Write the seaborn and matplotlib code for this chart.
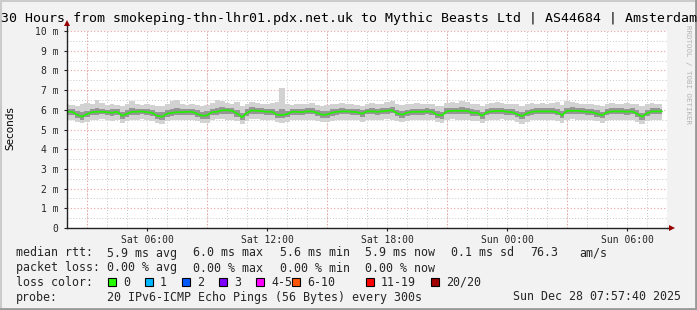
import numpy as np
import pandas as pd
import matplotlib
matplotlib.use("Agg")
import matplotlib.pyplot as plt
from matplotlib.patches import Rectangle
from matplotlib.lines import Line2D
import seaborn as sns

# ---------------- data ----------------
start_time = "2025-12-27 02:00"
end_time = "2025-12-28 08:00"
step = "15min"

median_rtt = [5.9,5.9,5.75,5.65,5.78,5.88,5.9,5.9,5.88,5.85,5.9,5.7,5.8,5.9,5.9,5.92,5.88,5.85,5.7,5.65,5.8,5.85,5.88,5.88,
              5.9,5.9,5.8,5.7,5.72,5.88,5.9,5.97,5.98,5.95,5.82,5.62,5.85,5.97,5.95,5.93,5.9,5.9,5.75,5.73,5.78,5.9,5.9,5.88,
              5.92,5.92,5.85,5.75,5.76,5.85,5.9,5.92,5.92,5.9,5.88,5.8,5.92,5.92,5.9,5.92,5.95,5.98,5.82,5.75,5.85,5.9,5.9,5.9,
              5.92,5.9,5.75,5.72,5.92,5.95,5.95,5.95,5.95,5.85,5.85,5.7,5.88,5.93,5.93,5.95,5.9,5.88,5.78,5.68,5.82,5.9,5.92,5.92,
              5.92,5.92,5.88,5.72,5.95,5.95,5.95,5.92,5.9,5.88,5.8,5.72,5.88,5.92,5.92,5.92,5.9,5.92,5.8,5.65,5.82,5.92,5.92,5.92]

rtt_max = [6.3,6.25,6.2,6.3,6.35,6.3,6.5,6.35,6.25,6.3,6.25,6.2,6.3,6.45,6.3,6.25,6.3,6.25,6.2,6.2,6.3,6.45,6.5,6.3,
           6.25,6.3,6.25,6.2,6.25,6.35,6.5,6.45,6.35,6.3,6.4,6.2,6.3,6.4,6.35,6.3,6.3,6.35,6.4,7.1,6.3,6.25,6.3,6.3,
           6.3,6.35,6.25,6.2,6.25,6.3,6.3,6.35,6.3,6.3,6.25,6.2,6.3,6.35,6.3,6.3,6.4,6.45,6.3,6.25,6.3,6.3,6.35,6.3,
           6.3,6.3,6.2,6.2,6.35,6.4,6.35,6.45,6.4,6.3,6.3,6.2,6.3,6.35,6.4,6.35,6.3,6.3,6.3,6.2,6.3,6.35,6.3,6.35,
           6.3,6.35,6.4,6.25,6.45,6.4,6.35,6.3,6.3,6.3,6.25,6.2,6.3,6.35,6.3,6.3,6.35,6.3,6.3,6.2,6.3,6.35,6.3,6.3]

rtt_min = [5.5,5.5,5.4,5.35,5.4,5.5,5.5,5.55,5.5,5.45,5.5,5.35,5.45,5.5,5.5,5.55,5.5,5.45,5.35,5.3,5.45,5.5,5.5,5.5,
           5.5,5.5,5.45,5.35,5.35,5.5,5.55,5.55,5.5,5.5,5.45,5.3,5.45,5.55,5.55,5.5,5.5,5.5,5.4,5.35,5.4,5.5,5.5,5.5,
           5.5,5.5,5.45,5.4,5.4,5.45,5.5,5.5,5.5,5.5,5.5,5.4,5.5,5.5,5.5,5.5,5.55,5.5,5.45,5.4,5.45,5.5,5.5,5.5,
           5.5,5.5,5.4,5.35,5.5,5.55,5.5,5.5,5.5,5.45,5.45,5.35,5.45,5.5,5.5,5.55,5.5,5.5,5.4,5.3,5.4,5.5,5.5,5.5,
           5.5,5.5,5.45,5.35,5.5,5.55,5.5,5.5,5.5,5.5,5.45,5.35,5.45,5.5,5.5,5.5,5.5,5.5,5.4,5.3,5.45,5.5,5.5,5.5]

rtt_q_hi = [6.05,6.02,5.95,5.9,5.95,6.02,6.08,6.05,6.0,6.02,6.05,5.9,5.98,6.08,6.05,6.05,6.02,6.0,5.9,5.88,5.98,6.05,6.08,6.02,
            6.05,6.05,5.98,5.9,5.92,6.05,6.1,6.12,6.1,6.1,6.0,5.85,6.02,6.12,6.1,6.08,6.05,6.05,5.95,6.05,5.95,6.05,6.05,6.02,
            6.08,6.08,6.0,5.92,5.92,6.02,6.05,6.08,6.05,6.05,6.02,5.98,6.05,6.08,6.05,6.08,6.1,6.12,6.0,5.92,6.0,6.05,6.05,6.05,
            6.08,6.05,5.92,5.9,6.08,6.1,6.1,6.12,6.1,6.02,6.0,5.9,6.02,6.08,6.1,6.1,6.05,6.02,5.95,5.88,5.98,6.05,6.08,6.08,
            6.08,6.08,6.05,5.92,6.1,6.12,6.1,6.08,6.05,6.05,5.98,5.9,6.02,6.08,6.08,6.08,6.05,6.08,5.98,5.85,6.0,6.08,6.08,6.05]

rtt_q_lo = [5.75,5.75,5.6,5.5,5.62,5.72,5.75,5.78,5.72,5.7,5.75,5.55,5.65,5.75,5.75,5.78,5.72,5.7,5.55,5.5,5.65,5.7,5.72,5.72,
            5.75,5.75,5.65,5.55,5.55,5.72,5.75,5.8,5.8,5.78,5.65,5.48,5.7,5.8,5.78,5.78,5.75,5.75,5.6,5.58,5.62,5.75,5.75,5.72,
            5.78,5.78,5.7,5.6,5.6,5.7,5.75,5.78,5.78,5.75,5.72,5.65,5.78,5.78,5.75,5.78,5.8,5.82,5.68,5.6,5.7,5.75,5.75,5.75,
            5.78,5.75,5.6,5.55,5.78,5.8,5.8,5.8,5.8,5.7,5.7,5.55,5.72,5.78,5.78,5.8,5.75,5.72,5.62,5.52,5.68,5.75,5.78,5.78,
            5.78,5.78,5.72,5.58,5.8,5.8,5.8,5.78,5.75,5.72,5.65,5.58,5.72,5.78,5.78,5.78,5.75,5.78,5.65,5.5,5.68,5.78,5.78,5.78]

x_tick_times = ["2025-12-27 06:00", "2025-12-27 12:00", "2025-12-27 18:00", "2025-12-28 00:00", "2025-12-28 06:00"]
x_tick_labels = ["Sat 06:00", "Sat 12:00", "Sat 18:00", "Sun 00:00", "Sun 06:00"]
y_ticks = [0, 1, 2, 3, 4, 5, 6, 7, 8, 9, 10]
y_tick_labels = ["0", "1 m", "2 m", "3 m", "4 m", "5 m", "6 m", "7 m", "8 m", "9 m", "10 m"]

loss_labels = ["0", "1", "2", "3", "4-5", "6-10", "11-19", "20/20"]
loss_colors = ["#26ff00", "#00b8ff", "#0059ff", "#7e00ff", "#ff00ff", "#ff5500", "#ff0000", "#a10000"]

title = "30 Hours from smokeping-thn-lhr01.pdx.net.uk to Mythic Beasts Ltd | AS44684 | Amsterdam"
rtt_stats = ["5.9 ms avg", "6.0 ms max", "5.6 ms min", "5.9 ms now", "0.1 ms sd", "76.3", "am/s"]
loss_stats = ["0.00 % avg", "0.00 % max", "0.00 % min", "0.00 % now"]
probe_text = "20 IPv6-ICMP Echo Pings (56 Bytes) every 300s"
stamp_text = "Sun Dec 28 07:57:40 2025"

# ---------------- figure ----------------
sns.set_style("white")
plt.rcParams['font.family'] = ['DejaVu Sans Mono', 'DejaVu Sans']

W, H = 697, 310
fig = plt.figure(figsize=(W / 100, H / 100), dpi=100, facecolor='#f2f2f2')
ax = fig.add_axes([67 / W, 1 - 228 / H, 600 / W, 197 / H])
ax.set_facecolor('white')

times = pd.date_range(start_time, periods=len(median_rtt), freq=step)
t0, t1 = pd.Timestamp(start_time), pd.Timestamp(end_time)
ax.set_xlim(t0, t1)
ax.set_ylim(0, 10)

# grid
minor_col = '#c8c8c8'
major_col = '#f0a0a0'
dots = (0, (1, 2))
for h in pd.date_range(t0, t1, freq='1h')[1:-1]:
    ax.axvline(h, color=minor_col, lw=0.7, ls=dots, zorder=0)
for h in pd.date_range("2025-12-27 03:00", t1, freq='6h'):
    ax.axvline(h, color=major_col, lw=0.8, ls=dots, zorder=0.5)
for v in np.arange(0.5, 10, 1.0):
    ax.axhline(v, color=minor_col, lw=0.7, ls=dots, zorder=0)
for v in range(1, 11):
    ax.axhline(v, color=major_col, lw=0.8, ls=dots, zorder=0.5)

# smoke
ax.fill_between(times, rtt_min, rtt_max, color='#d2d2d2', lw=0, step='mid', zorder=1)
ax.fill_between(times, rtt_q_lo, rtt_q_hi, color='#969696', lw=0, step='mid', zorder=1.1)
sns.lineplot(x=times, y=median_rtt, color='#22f000', lw=1.3, ax=ax, zorder=2, legend=False)
ax.set_xlabel("")
ax.set_ylabel("")

# axes / ticks
for s in ['top', 'right']:
    ax.spines[s].set_visible(False)
for s in ['left', 'bottom']:
    ax.spines[s].set_color('#222222')
    ax.spines[s].set_linewidth(1.0)
ax.set_yticks(y_ticks)
ax.set_yticklabels(y_tick_labels)
ax.set_xticks(pd.to_datetime(x_tick_times))
ax.set_xticklabels(x_tick_labels)
ax.tick_params(axis='both', labelsize=7, length=2, width=0.8, color='#222222', pad=3,
               left=True, bottom=True)
ax.tick_params(axis='y', pad=4)
for lab in ax.get_xticklabels() + ax.get_yticklabels():
    lab.set_fontfamily(['DejaVu Sans Mono'])

# axis arrows
ax.plot([0, 0], [1, 1.035], transform=ax.transAxes, color='#222222', lw=1, clip_on=False)
ax.plot([0], [1.04], transform=ax.transAxes, marker='^', ms=4, color='#990000', clip_on=False, mew=0)
ax.plot([1, 1.006], [0, 0], transform=ax.transAxes, color='#222222', lw=1, clip_on=False)
ax.plot([1.009], [0], transform=ax.transAxes, marker='>', ms=4, color='#990000', clip_on=False, mew=0)

def fx(x):
    return x / W

def fy(y):
    return 1 - y / H

# title & labels
fig.text(fx(1), fy(18.5), title, ha='left', va='center', fontsize=9.55, color='black')
fig.text(fx(10), fy(128), "Seconds", rotation=90, ha='center', va='center', fontsize=7.5,
         family=['DejaVu Sans'], color='black')
fig.text(fx(688), fy(25), "RRDTOOL / TOBI OETIKER", rotation=270, ha='center', va='top',
         fontsize=5.4, color='#b4b4b4')

fs = 8.4
cols = [107, 193, 280, 365, 451, 530, 579]
fig.text(fx(16), fy(253), "median rtt:", ha='left', va='center', fontsize=fs)
for x, s in zip(cols, rtt_stats):
    fig.text(fx(x), fy(253), s, ha='left', va='center', fontsize=fs)
fig.text(fx(16), fy(268), "packet loss:", ha='left', va='center', fontsize=fs)
for x, s in zip(cols, loss_stats):
    fig.text(fx(x), fy(268), s, ha='left', va='center', fontsize=fs)
fig.text(fx(16), fy(282), "loss color:", ha='left', va='center', fontsize=fs)
box_x = [108, 145, 182, 219, 256, 292, 366, 431]
for bx, lab, col in zip(box_x, loss_labels, loss_colors):
    fig.add_artist(Rectangle((fx(bx), fy(285.5)), 8 / W, 8 / H, transform=fig.transFigure,
                             facecolor=col, edgecolor='black', lw=0.8))
    fig.text(fx(bx + 15), fy(282), lab, ha='left', va='center', fontsize=fs)
fig.text(fx(16), fy(297), "probe:", ha='left', va='center', fontsize=fs)
fig.text(fx(107), fy(297), probe_text, ha='left', va='center', fontsize=fs)
fig.text(fx(513), fy(297), stamp_text, ha='left', va='center', fontsize=fs)

# frame shading
fig.add_artist(Line2D([0, 1], [fy(0.5), fy(0.5)], transform=fig.transFigure, color='#cbcbcb', lw=1.5))
fig.add_artist(Line2D([fx(0.5), fx(0.5)], [0, 1], transform=fig.transFigure, color='#cbcbcb', lw=1.5))
fig.add_artist(Line2D([0, 1], [fy(309), fy(309)], transform=fig.transFigure, color='#999999', lw=2))
fig.add_artist(Line2D([fx(696), fx(696)], [0, 1], transform=fig.transFigure, color='#999999', lw=2))

fig.savefig("out.png", dpi=100, facecolor=fig.get_facecolor())
